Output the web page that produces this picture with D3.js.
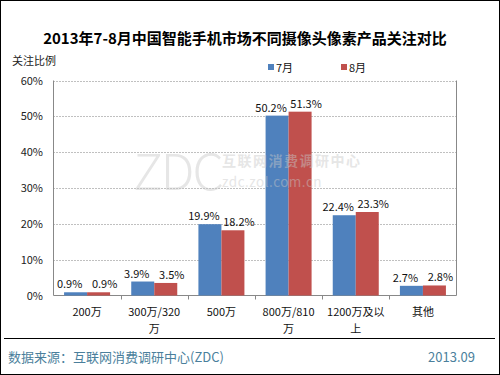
<!DOCTYPE html>
<html><head><meta charset="utf-8">
<script src="https://cdn.jsdelivr.net/npm/d3@7"></script>
<style>body{margin:0;background:#fff;}svg{display:block;}text{font-family:"Noto Sans CJK SC","Noto Sans",sans-serif;}</style>
</head><body>
<script>
const categories = [["200万"],["300万/320","万"],["500万"],["800万/810","万"],["1200万及以","上"],["其他"]];
const series = ["7月","8月"];
const july = [0.9,3.9,19.9,50.2,22.4,2.7];
const august = [0.9,3.5,18.2,51.3,23.3,2.8];
const yTicks = [0,10,20,30,40,50,60];
const colors = ["#4f81bd","#c0504d"];
const title = "2013年7-8月中国智能手机市场不同摄像头像素产品关注对比";

(function(){
const W=500,H=375;
const svg=d3.select("body").append("svg").attr("width",W).attr("height",H);
svg.append("rect").attr("x",0.5).attr("y",0.5).attr("width",W-1).attr("height",H-1).attr("fill","#fff").attr("stroke","#000");

const pL=53.5,pR=456.5,pT=80.5,pB=295.5;
const keys=categories.map((c,i)=>i);
const x0=d3.scaleBand().domain(keys).range([pL,pR]);
const x1=d3.scaleBand().domain(series).range([0,x0.bandwidth()]).paddingOuter(0.46);
const y=d3.scaleLinear().domain([0,60]).range([pB,pT]);

// grid
svg.append("g").selectAll("line").data(yTicks.filter(d=>d>0)).join("line")
 .attr("x1",pL).attr("x2",pR).attr("y1",d=>Math.round(y(d))+0.5).attr("y2",d=>Math.round(y(d))+0.5)
 .attr("stroke","#808080").attr("stroke-dasharray","1,2");
// frame left/right/bottom
svg.append("path").attr("d",`M${pL},${pT}V${pB}H${pR}V${pT}`).attr("fill","none").attr("stroke","#888");

// y labels
svg.append("g").selectAll("text").data(yTicks).join("text")
 .attr("x",43).attr("y",d=>y(d)+4).attr("text-anchor","end").attr("font-size",11).attr("fill","#222").text(d=>d+"%");

// x ticks
svg.append("g").selectAll("line").data(d3.range(1,categories.length)).join("line")
 .attr("x1",i=>Math.round(x0(i))+0.5).attr("x2",i=>Math.round(x0(i))+0.5).attr("y1",pB).attr("y2",pB+4).attr("stroke","#888");

// bars
const data=[july,august];
const offs=[-6,6];
keys.forEach(i=>{
  series.forEach((s,j)=>{
    const v=data[j][i];
    const bx=x0(i)+x1(s);
    svg.append("rect").attr("x",bx).attr("y",y(v)).attr("width",x1.bandwidth()).attr("height",pB-y(v)).attr("fill",colors[j]);
  });
});

// watermark (drawn over bars, translucent)
const wm=svg.append("g").attr("fill","#c8c8c8").attr("opacity",0.45);
wm.append("text").attr("x",133).attr("y",190).attr("font-size",50).attr("font-family","DejaVu Sans").attr("font-weight","200").attr("letter-spacing",-2).text("ZDC");
wm.append("text").attr("x",222).attr("y",166).attr("font-size",14).attr("font-weight","bold").attr("letter-spacing",1.5).text("互联网消费调研中心");
wm.append("text").attr("x",222).attr("y",187).attr("font-size",13.5).attr("letter-spacing",0.5).text("zdc.zol.com.cn");

keys.forEach(i=>{
  series.forEach((s,j)=>{
    const v=data[j][i];
    const bx=x0(i)+x1(s);
    svg.append("text").attr("x",bx+x1.bandwidth()/2+offs[j]).attr("y",y(v)-4).attr("text-anchor","middle").attr("font-size",11).attr("fill","#111").text(v.toFixed(1)+"%");
  });
  categories[i].forEach((line,k)=>{
    svg.append("text").attr("x",x0(i)+x0.bandwidth()/2).attr("y",316+k*17).attr("text-anchor","middle").attr("font-size",11).attr("fill","#111").text(line);
  });
});

// title
svg.append("text").attr("x",245).attr("y",44).attr("text-anchor","middle").attr("font-size",15).attr("font-weight","bold").attr("fill","#000").text(title);
svg.append("text").attr("x",12).attr("y",65).attr("font-size",11).attr("fill","#222").text("关注比例");

// legend
series.forEach((s,j)=>{
  const lx=[268,341][j];
  svg.append("rect").attr("x",lx).attr("y",64).attr("width",6).attr("height",6).attr("fill",colors[j]);
  svg.append("text").attr("x",lx+8).attr("y",72).attr("font-size",11).attr("fill","#111").text(s);
});

// footer
svg.append("line").attr("x1",4).attr("x2",495).attr("y1",338.5).attr("y2",338.5).attr("stroke","#000");
svg.append("text").attr("x",8).attr("y",362).attr("font-size",13).attr("fill","#4b7f9c").text("数据来源：互联网消费调研中心(ZDC)");
svg.append("text").attr("x",475).attr("y",362).attr("text-anchor","end").attr("font-size",13).attr("fill","#4b7f9c").text("2013.09");
})();
</script>
</body></html>
